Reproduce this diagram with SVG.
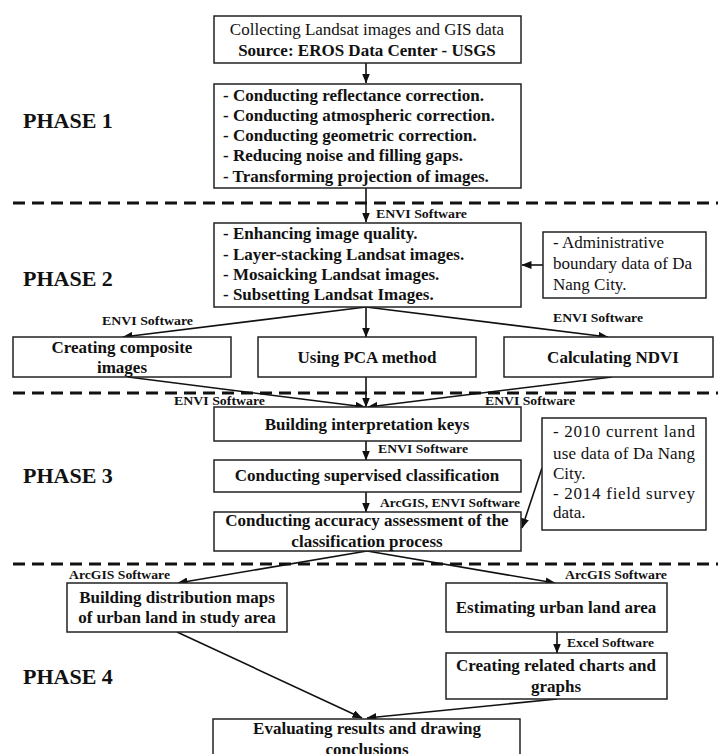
<svg xmlns="http://www.w3.org/2000/svg" width="718" height="754" viewBox="0 0 718 754">
<defs>
<marker id="ah" markerWidth="10" markerHeight="8" refX="9.5" refY="4" orient="auto" markerUnits="userSpaceOnUse"><path d="M0,0 L10,4 L0,8 z" fill="#111"/></marker>
<style>
.box{fill:#fff;stroke:#222;stroke-width:1.5}
.t{font-family:"Liberation Serif","Times New Roman",serif;font-size:17px;fill:#111}
.b{font-weight:bold}
.c{text-anchor:middle}
.sw{font-family:"Liberation Serif","Times New Roman",serif;font-size:12.5px;font-weight:bold;fill:#111}
.ph{font-family:"Liberation Serif","Times New Roman",serif;font-size:22px;font-weight:bold;fill:#111}
.dash{stroke:#111;stroke-width:3;stroke-dasharray:12 7;fill:none}
.con{stroke:#111;stroke-width:1.6;fill:none;marker-end:url(#ah)}
.ln{stroke:#111;stroke-width:1.6;fill:none}
</style>
</defs>
<rect width="718" height="754" fill="#fff"/>

<g id="phases">
<text class="ph" x="23" y="128">PHASE 1</text>
<text class="ph" x="23" y="286">PHASE 2</text>
<text class="ph" x="23" y="483">PHASE 3</text>
<text class="ph" x="23" y="684">PHASE 4</text>
</g>

<g id="dividers">
<line class="dash" x1="13" y1="203" x2="718" y2="203"/>
<line class="dash" x1="13" y1="393" x2="718" y2="393"/>
<line class="dash" x1="13" y1="564" x2="718" y2="564"/>
</g>

<g id="connectors">
<line class="con" x1="366" y1="63" x2="366" y2="83"/>
<line class="con" x1="366" y1="188" x2="366" y2="222"/>
<line class="con" x1="543" y1="265" x2="522" y2="265"/>
<line class="con" x1="366" y1="307" x2="123" y2="337"/>
<line class="con" x1="366" y1="307" x2="366" y2="337"/>
<line class="con" x1="366" y1="307" x2="608" y2="337"/>
<line class="con" x1="128" y1="377" x2="365" y2="407"/>
<line class="con" x1="366" y1="377" x2="366" y2="407"/>
<line class="con" x1="612" y1="377" x2="368" y2="407"/>
<line class="con" x1="366" y1="441" x2="366" y2="460"/>
<line class="con" x1="366" y1="492" x2="366" y2="512"/>
<line class="con" x1="542" y1="468" x2="522" y2="528"/>
<line class="con" x1="367" y1="551" x2="178" y2="583"/>
<line class="con" x1="367" y1="551" x2="555" y2="583"/>
<line class="con" x1="557" y1="632" x2="557" y2="653"/>
<line class="con" x1="177" y1="632" x2="362" y2="718"/>
<line class="con" x1="557" y1="699" x2="367" y2="718"/>
<text class="sw" x="376" y="218" textLength="91" lengthAdjust="spacingAndGlyphs">ENVI  Software</text>
<text class="sw" x="102" y="325" textLength="91" lengthAdjust="spacingAndGlyphs">ENVI  Software</text>
<text class="sw" x="553" y="322" textLength="90" lengthAdjust="spacingAndGlyphs">ENVI  Software</text>
<text class="sw" x="174" y="405" textLength="91" lengthAdjust="spacingAndGlyphs">ENVI  Software</text>
<text class="sw" x="485" y="405" textLength="90" lengthAdjust="spacingAndGlyphs">ENVI  Software</text>
<text class="sw" x="378" y="453" textLength="90" lengthAdjust="spacingAndGlyphs">ENVI  Software</text>
<text class="sw" x="380" y="507" textLength="140" lengthAdjust="spacingAndGlyphs">ArcGIS, ENVI  Software</text>
<text class="sw" x="69" y="579" textLength="101" lengthAdjust="spacingAndGlyphs">ArcGIS  Software</text>
<text class="sw" x="565" y="579" textLength="102" lengthAdjust="spacingAndGlyphs">ArcGIS  Software</text>
<text class="sw" x="567" y="647" textLength="87" lengthAdjust="spacingAndGlyphs">Excel Software</text>
</g>

<g id="n-collect">
<rect class="box" x="214" y="16" width="307" height="47"/>
<text class="t c" x="367" y="35">Collecting Landsat images and GIS data</text>
<text class="t b c" x="367" y="56">Source: EROS Data Center - USGS</text>
</g>

<g id="n-correction">
<rect class="box" x="214" y="84" width="307" height="104"/>
<text class="t b" x="223" y="101">- Conducting reflectance correction.</text>
<text class="t b" x="223" y="121">- Conducting atmospheric correction.</text>
<text class="t b" x="223" y="141">- Conducting geometric correction.</text>
<text class="t b" x="223" y="161">- Reducing noise and filling gaps.</text>
<text class="t b" x="223" y="182">- Transforming projection of images.</text>
</g>

<g id="n-enhance">
<rect class="box" x="214" y="223" width="307" height="84"/>
<text class="t b" x="223" y="239">- Enhancing image quality.</text>
<text class="t b" x="223" y="260">- Layer-stacking Landsat images.</text>
<text class="t b" x="223" y="280">- Mosaicking Landsat images.</text>
<text class="t b" x="223" y="300">- Subsetting Landsat Images.</text>
</g>

<g id="n-admin">
<rect class="box" x="543" y="232" width="163" height="66"/>
<text class="t" x="553" y="248">- Administrative</text>
<text class="t" x="553" y="269" textLength="139" lengthAdjust="spacing">boundary data of Da</text>
<text class="t" x="553" y="290">Nang City.</text>
</g>

<g id="n-composite">
<rect class="box" x="13" y="337" width="218" height="40"/>
<text class="t b c" x="122" y="353">Creating composite</text>
<text class="t b c" x="122" y="373">images</text>
</g>

<g id="n-pca">
<rect class="box" x="258" y="337" width="218" height="40"/>
<text class="t b c" x="367" y="363">Using PCA method</text>
</g>

<g id="n-ndvi">
<rect class="box" x="504" y="337" width="209" height="40"/>
<text class="t b c" x="613" y="363">Calculating NDVI</text>
</g>

<g id="n-keys">
<rect class="box" x="214" y="407" width="307" height="34"/>
<text class="t b c" x="367" y="430">Building interpretation keys</text>
</g>

<g id="n-supervised">
<rect class="box" x="214" y="460" width="307" height="32"/>
<text class="t b c" x="367" y="481">Conducting supervised classification</text>
</g>

<g id="n-accuracy">
<rect class="box" x="214" y="512" width="307" height="39"/>
<text class="t b c" x="367" y="526">Conducting accuracy assessment of the</text>
<text class="t b c" x="367" y="547">classification process</text>
</g>

<g id="n-landuse">
<rect class="box" x="542" y="418" width="164" height="112"/>
<text class="t" x="553" y="437" textLength="142" lengthAdjust="spacing">- 2010 current land</text>
<text class="t" x="553" y="459" textLength="142" lengthAdjust="spacing">use data of Da Nang</text>
<text class="t" x="553" y="479">City.</text>
<text class="t" x="553" y="499" textLength="142" lengthAdjust="spacing">- 2014 field survey</text>
<text class="t" x="553" y="518">data.</text>
</g>

<g id="n-maps">
<rect class="box" x="67" y="583" width="220" height="49"/>
<text class="t b c" x="177" y="603">Building distribution maps</text>
<text class="t b c" x="177" y="623">of urban land in study area</text>
</g>

<g id="n-estimate">
<rect class="box" x="446" y="583" width="221" height="49"/>
<text class="t b c" x="556" y="613">Estimating urban land area</text>
</g>

<g id="n-charts">
<rect class="box" x="446" y="653" width="221" height="46"/>
<text class="t b c" x="556" y="671">Creating related charts and</text>
<text class="t b c" x="556" y="692">graphs</text>
</g>

<g id="n-evaluate">
<rect class="box" x="213" y="719" width="307" height="50"/>
<text class="t b c" x="367" y="734">Evaluating results and drawing</text>
<text class="t b c" x="367" y="755">conclusions</text>
</g>
</svg>
